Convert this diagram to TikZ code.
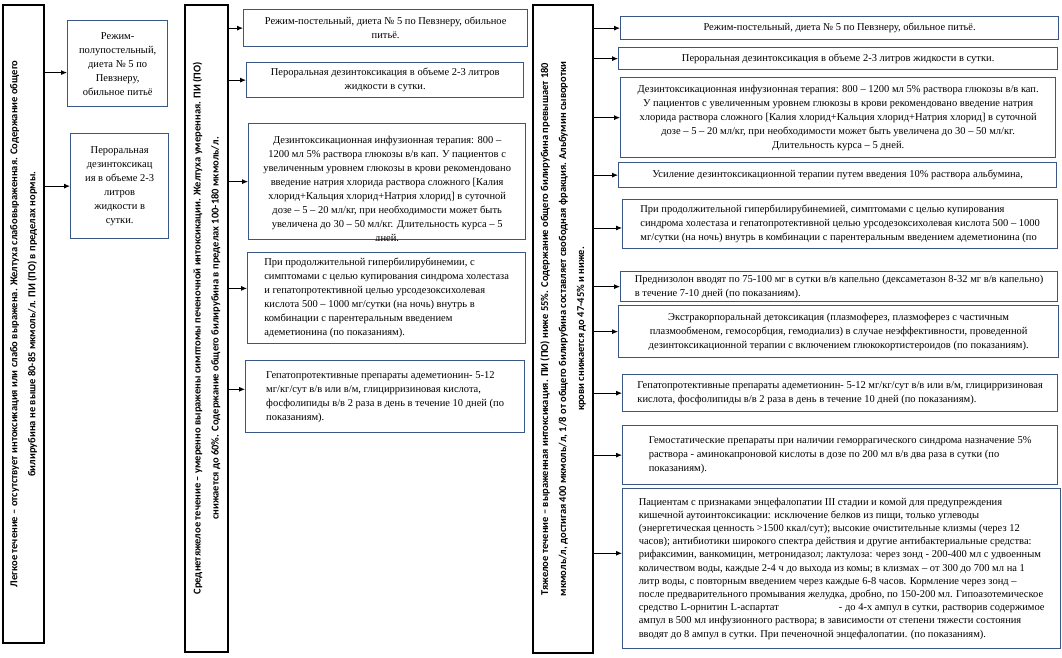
\documentclass[tikz,border=0pt]{standalone}
\usepackage{fontspec}
\setmainfont{Liberation Serif}
\newfontfamily\stagefont{Carlito}
\usepackage{xcolor}
\usetikzlibrary{arrows.meta, positioning}
\definecolor{boxblue}{RGB}{58,86,132}

\begin{document}
\begin{tikzpicture}[x=1pt, y=-1pt,
    every node/.style={font=\fontsize{10.5}{14}\selectfont},
    stage/.style={draw, line width=1.4pt, fill=white, rotate=90, align=center,
        font=\stagefont\bfseries\fontsize{10.5}{18}\selectfont},
    care/.style={draw=boxblue, line width=1.3pt, fill=white, anchor=north west,
        align=center, inner xsep=4pt, inner ysep=2pt},
    flow/.style={-{Latex[length=6pt, width=5pt]}, line width=0.8pt}]

\useasboundingbox (0,0) rectangle (1062,658);

% stages (rotated, so .south is the right side)
\node[stage, minimum width=638, minimum height=41] (mild) at (23.5,324)
    {Легкое течение – отсутствует интоксикация или слабо выражена. Желтуха слабовыраженная. Содержание общего\\
     билирубина не выше 80-85 мкмоль/л. ПИ (ПО) в пределах нормы.};
\node[stage, minimum width=647, minimum height=43] (moderate) at (206.5,328.5)
    {Среднетяжелое течение – умеренно выражены симптомы печеночной интоксикации. Желтуха умеренная. ПИ (ПО)\\
     снижается до 60\%. Содержание общего билирубина в пределах 100-180 мкмоль/л.};
\node[stage, minimum width=648, minimum height=60] (severe) at (563,329)
    {Тяжелое течение – выраженная интоксикация. ПИ (ПО) ниже 55\%. Содержание общего билирубина превышает 180\\
     мкмоль/л, достигая 400 мкмоль/л, 1/8 от общего билирубина составляет свободная фракция. Альбумин сыворотки\\
     крови снижается до 47-45\% и ниже.};

% mild course
\node[care, minimum width=100, minimum height=86] (l1) at (67,20)
    {Режим-\\полупостельный,\\диета № 5 по\\Певзнеру,\\обильное питьё};
\node[care, minimum width=98, minimum height=105] (l2) at (70,133)
    {Пероральная\\дезинтоксикац\\ия в объеме 2-3\\литров\\жидкости в\\сутки.};

% moderate course
\node[care, minimum width=284, minimum height=37] (m1) at (243,9)
    {Режим-постельный, диета № 5 по Певзнеру, обильное\\питьё.};
\node[care, minimum width=277, minimum height=35] (m2) at (246,62)
    {Пероральная дезинтоксикация в объеме 2-3 литров\\жидкости в сутки.};
\node[care, minimum width=277, minimum height=116] (m3) at (248,123) {};
\begin{scope}
    \clip (m3.north west) rectangle (m3.south east);
    \node[anchor=north, align=center] (m3text) at ([yshift=-10pt]m3.north)
        {Дезинтоксикационная инфузионная терапия: 800 –\\
         1200 мл 5\% раствора глюкозы в/в кап. У пациентов с\\
         увеличенным уровнем глюкозы в крови рекомендовано\\
         введение натрия хлорида раствора сложного [Калия\\
         хлорид+Кальция хлорид+Натрия хлорид] в суточной\\
         дозе – 5 – 20 мл/кг, при необходимости может быть\\
         увеличена до 30 – 50 мл/кг. Длительность курса – 5\\
         дней.};
\end{scope}
\node[care, align=left, minimum width=278, minimum height=91] (m4) at (247,252)
    {При продолжительной гипербилирубинемии, с\\
     симптомами с целью купирования синдрома холестаза\\
     и гепатопротективной целью урсодезоксихолевая\\
     кислота 500 – 1000 мг/сутки (на ночь) внутрь в\\
     комбинации с парентеральным введением\\
     адеметионина (по показаниям).};
\node[care, align=left, minimum width=279, minimum height=72] (m5) at (245,360)
    {Гепатопротективные препараты адеметионин- 5-12\\
     мг/кг/сут в/в или в/м, глицирризиновая кислота,\\
     фосфолипиды в/в 2 раза в день в течение 10 дней (по\\
     показаниям).};

% severe course
\node[care, minimum width=438, minimum height=23] (r1) at (620,16)
    {Режим-постельный, диета № 5 по Певзнеру, обильное питьё.};
\node[care, minimum width=439, minimum height=22] (r2) at (618,47)
    {Пероральная дезинтоксикация в объеме 2-3 литров жидкости в сутки.};
\node[care, minimum width=435, minimum height=80] (r3) at (620,77)
    {Дезинтоксикационная инфузионная терапия: 800 – 1200 мл 5\% раствора глюкозы в/в кап.\\
     У пациентов с увеличенным уровнем глюкозы в крови рекомендовано введение натрия\\
     хлорида раствора сложного [Калия хлорид+Кальция хлорид+Натрия хлорид] в суточной\\
     дозе – 5 – 20 мл/кг, при необходимости может быть увеличена до 30 – 50 мл/кг.\\
     Длительность курса – 5 дней.};
\node[care, minimum width=438, minimum height=25] (r4) at (618,162)
    {Усиление дезинтоксикационной терапии путем введения 10\% раствора альбумина,};
\node[care, align=left, minimum width=435, minimum height=49] (r5) at (622,199)
    {При продолжительной гипербилирубинемией, симптомами с целью купирования\\
     синдрома холестаза и гепатопротективной целью урсодезоксихолевая кислота 500 – 1000\\
     мг/сутки (на ночь) внутрь в комбинации с парентеральным введением адеметионина (по};
\node[care, align=left, minimum width=437, minimum height=30] (r6) at (620,271)
    {Преднизолон вводят по 75-100 мг в сутки в/в капельно (дексаметазон 8-32 мг в/в капельно)\\
     в течение 7-10 дней (по показаниям).};
\node[care, minimum width=440, minimum height=52] (r7) at (618,305)
    {Экстракорпоральнай детоксикация (плазмоферез, плазмоферез с частичным\\
     плазмообменом, гемосорбция, гемодиализ) в случае неэффективности, проведенной\\
     дезинтоксикационной терапии с включением глюкокортистероидов (по показаниям).};
\node[care, align=left, minimum width=435, minimum height=37] (r8) at (622,374)
    {Гепатопротективные препараты адеметионин- 5-12 мг/кг/сут в/в или в/м, глицирризиновая\\
     кислота, фосфолипиды в/в 2 раза в день в течение 10 дней (по показаниям).};
\node[care, align=left, minimum width=435, minimum height=59] (r9) at (622,425)
    {Гемостатические препараты при наличии геморрагического синдрома назначение 5\%\\
     раствора - аминокапроновой кислоты в дозе по 200 мл в/в два раза в сутки (по\\
     показаниям).};
\node[care, align=left, minimum width=438, minimum height=160,
      font=\fontsize{10.5}{13.2}\selectfont] (r10) at (622,488)
    {Пациентам с признаками энцефалопатии III стадии и комой для предупреждения\\
     кишечной аутоинтоксикации: исключение белков из пищи, только углеводы\\
     (энергетическая ценность >1500 ккал/сут); высокие очистительные клизмы (через 12\\
     часов); антибиотики широкого спектра действия и другие антибактериальные средства:\\
     рифаксимин, ванкомицин, метронидазол; лактулоза: через зонд - 200-400 мл с удвоенным\\
     количеством воды, каждые 2-4 ч до выхода из комы; в клизмах – от 300 до 700 мл на 1\\
     литр воды, с повторным введением через каждые 6-8 часов.  Кормление через зонд –\\
     после предварительного промывания желудка, дробно, по 150-200 мл. Гипоазотемическое\\
     средство L-орнитин L-аспартат\hspace{60pt}- до 4-х ампул в сутки, растворив содержимое\\
     ампул в 500 мл инфузионного раствора; в зависимости от степени тяжести состояния\\
     вводят до 8 ампул в сутки. При печеночной энцефалопатии. (по показаниям).};

% connectors
\draw[flow] (l1.190 -| mild.south) -- (l1.190);
\draw[flow] (l2.west -| mild.south) -- (l2.west);

\draw[flow] (m1.west -| moderate.south) -- (m1.west);
\draw[flow] (m2.west -| moderate.south) -- (m2.west);
\draw[flow] (m3.west -| moderate.south) -- (m3.west);
\draw[flow] (m4.176 -| moderate.south) -- (m4.176);
\draw[flow] (m5.177 -| moderate.south) -- (m5.177);

\draw[flow] (r1.west -| severe.south) -- (r1.west);
\draw[flow] (r2.west -| severe.south) -- (r2.west);
\draw[flow] (r3.west -| severe.south) -- (r3.west);
\draw[flow] (r4.west -| severe.south) -- (r4.west);
\draw[flow] (r5.181 -| severe.south) -- (r5.181);
\draw[flow] (r6.west -| severe.south) -- (r6.west);
\draw[flow] (r7.west -| severe.south) -- (r7.west);
\draw[flow] (r8.west -| severe.south) -- (r8.west);
\draw[flow] (r9.west -| severe.south) -- (r9.west);
\draw[flow] (r10.176 -| severe.south) -- (r10.176);
\end{tikzpicture}
\end{document}
